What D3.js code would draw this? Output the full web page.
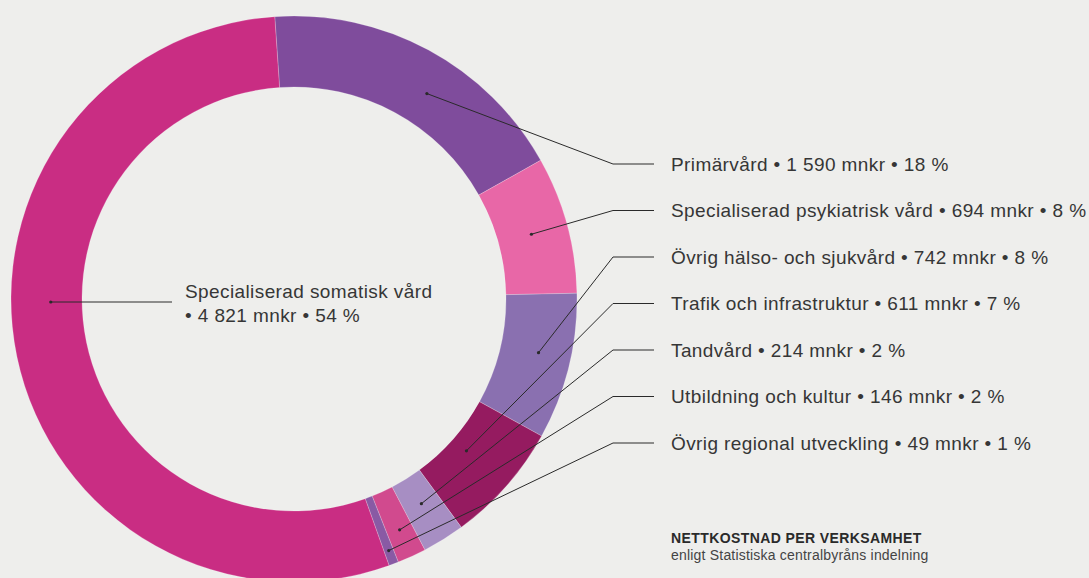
<!DOCTYPE html>
<html>
<head>
<meta charset="utf-8">
<script src="https://cdn.jsdelivr.net/npm/d3@7"></script>
<style>
  html, body { margin: 0; padding: 0; background: #eeeeec; }
  svg { display: block; }
</style>
</head>
<body>
<svg id="chart"></svg>
<script>
// data
const categories = ['Primärvård', 'Specialiserad psykiatrisk vård', 'Övrig hälso- och sjukvård', 'Trafik och infrastruktur',
    'Tandvård', 'Utbildning och kultur', 'Övrig regional utveckling', 'Specialiserad somatisk vård']
const values = [1590, 694, 742, 611, 214, 146, 49, 4821]
const percents = [18, 8, 8, 7, 2, 2, 1, 54]
const colors = ['#7f4c9c', '#e867a7', '#8a70b0', '#951b60', '#a78ec3', '#d14a8e', '#895aa4', '#c92d83']
const title = 'NETTKOSTNAD PER VERKSAMHET'
const subtitle = 'enligt Statistiska centralbyråns indelning'

//chart globals
const width = 1089
const height = 578
const cx = 294
const cy = 299
const outerR = 283
const innerR = 212
const font = '"Liberation Sans", Arial, Helvetica, sans-serif'
const textColor = '#363636'
const lineColor = '#2a2a2a'

//where the leader dot sits inside each slice: share of the slice angle, share of the ring depth
const dotAngle = [0.57, 0.5, 0.45, 0.5, 0.5, 0.5, 0.5]
const dotDepth = [0.46, 0.48, 0.54, 0.25, 0.41, 0.59, 0.8]

const svg = d3.select('#chart')
    .attr('width', width)
    .attr('height', height)
    .style('background', '#eeeeec')

const data = categories.map((c, i) => ({ name: c, value: values[i], pct: percents[i], color: colors[i] }))

//swedish number format, space as thousands separator
const fmt = d3.formatLocale({ decimal: ',', thousands: '\u00a0', grouping: [3], currency: ['', ''] }).format(',d')

//pie starts just left of twelve o'clock
const start = -3.9 * Math.PI / 180
const pie = d3.pie()
    .sort(null)
    .value(d => d.value)
    .startAngle(start)
    .endAngle(start + 2 * Math.PI)

const arc = d3.arc()
    .innerRadius(innerR)
    .outerRadius(outerR)

const arcs = pie(data)

//point inside the ring at a given angle and depth
const ringPoint = (a, depth) => {
    const r = innerR + depth * (outerR - innerR)
    return [cx + r * Math.sin(a), cy - r * Math.cos(a)]
}

const g = svg.append('g')
    .attr('transform', `translate(${cx}, ${cy})`)

g.selectAll('path.slice')
    .data(arcs)
    .enter().append('path')
        .attr('class', 'slice')
        .attr('d', arc)
        .attr('fill', d => d.data.color)
        .attr('stroke', 'rgba(255,255,255,0.35)')
        .attr('stroke-width', 0.6)

//right hand labels (all but the big slice)
const rowTop = 164
const rowGap = 46.5
const elbowX = 613
const lineEndX = 654
const textX = 671

const small = arcs.slice(0, arcs.length - 1)

small.forEach((d, i) => {
    const a = d.startAngle + dotAngle[i] * (d.endAngle - d.startAngle)
    const [px, py] = ringPoint(a, dotDepth[i])
    const rowY = rowTop + i * rowGap
    svg.append('polyline')
        .attr('points', `${px},${py} ${elbowX},${rowY} ${lineEndX},${rowY}`)
        .attr('fill', 'none')
        .attr('stroke', lineColor)
        .attr('stroke-width', 1)
    svg.append('circle')
        .attr('cx', px)
        .attr('cy', py)
        .attr('r', 1.6)
        .attr('fill', lineColor)
    svg.append('text')
        .attr('x', textX)
        .attr('y', rowY + 6.8)
        .attr('font-family', font)
        .attr('font-size', '19px')
        .attr('letter-spacing', '0.4px')
        .attr('fill', textColor)
        .text(`${d.data.name} • ${fmt(d.data.value)} mnkr • ${d.data.pct} %`)
})

//big slice label, dot where the ring crosses the horizontal on the left
const big = arcs[arcs.length - 1]
const [bx, by0] = ringPoint(3 * Math.PI / 2, 0.44)
const by = by0 + 3

svg.append('line')
    .attr('x1', bx)
    .attr('y1', by)
    .attr('x2', 172)
    .attr('y2', by)
    .attr('stroke', lineColor)
    .attr('stroke-width', 1)

svg.append('circle')
    .attr('cx', bx)
    .attr('cy', by)
    .attr('r', 1.6)
    .attr('fill', lineColor)

const bigLabel = svg.append('text')
    .attr('font-family', font)
    .attr('font-size', '19px')
    .attr('letter-spacing', '0.4px')
    .attr('fill', textColor)

bigLabel.append('tspan')
    .attr('x', 185)
    .attr('y', 298)
    .text(big.data.name)

bigLabel.append('tspan')
    .attr('x', 185)
    .attr('y', 322)
    .text(`• ${fmt(big.data.value)} mnkr • ${big.data.pct} %`)

//title block
svg.append('text')
    .attr('x', textX)
    .attr('y', 543)
    .attr('font-family', font)
    .attr('font-size', '14px')
    .attr('letter-spacing', '0.4px')
    .attr('font-weight', 'bold')
    .attr('fill', '#2a2a2a')
    .text(title)

svg.append('text')
    .attr('x', textX)
    .attr('y', 560)
    .attr('font-family', font)
    .attr('font-size', '14px')
    .attr('letter-spacing', '0.2px')
    .attr('fill', '#444')
    .text(subtitle)
</script>
</body>
</html>
